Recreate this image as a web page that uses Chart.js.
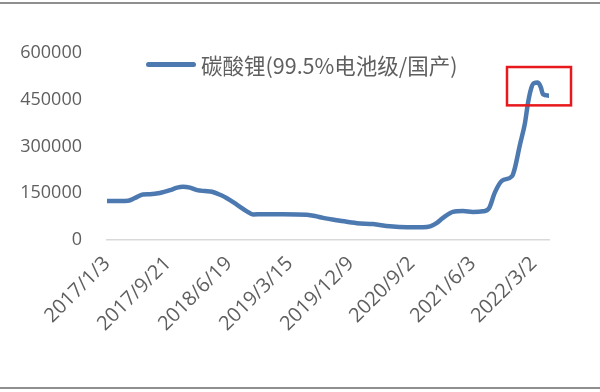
<!DOCTYPE html>
<html>
<head>
<meta charset="utf-8">
<script src="https://cdn.jsdelivr.net/npm/chart.js@4/dist/chart.umd.min.js"></script>
<style>
    body { margin: 0; background: #fff; }
    #wrap { position: relative; width: 600px; height: 392px; overflow: hidden; }
    #wrap::before, #wrap::after {
        content: ''; position: absolute; left: 0; right: 0; height: 2px; background: #8f8f8f;
    }
    #wrap::before { top: 2px; }
    #wrap::after { top: 387px; }
    #legend {
        position: absolute; left: 146px; top: 51px; height: 26px;
        display: flex; align-items: center;
        font-family: "Noto Sans CJK SC", "Open Sans", sans-serif; font-size: 21.5px; color: #5f5f5f;
    }
    #legend .swatch { width: 50px; height: 5px; border-radius: 3px; margin-right: 5px; }
</style>
</head>
<body>
<div id="wrap">
    <canvas id="chart"></canvas>
    <div id="legend"><span class="swatch"></span><span class="name"></span></div>
</div>
<script>
    // trading-day index from 2017/1/3 and price (yuan/ton)
    const tradeDay = [0, 38, 62, 83, 106, 127, 156, 186, 207, 224, 245, 266, 289, 310, 334, 354, 384, 413, 431,
        460, 520, 590, 614, 638, 688, 738, 785, 835, 886, 933, 954, 974, 992, 1021, 1051, 1080, 1110, 1128,
        1145, 1166, 1196, 1204, 1219, 1234, 1243, 1252, 1260, 1272, 1281, 1287, 1305];
    const price = [125000, 125000, 126000, 135000, 146000, 147000, 151000, 160000, 168000, 171000, 168000,
        160000, 157000, 155000, 145000, 134000, 113000, 92000, 82000,
        83000, 83000, 81000, 77000, 71000, 62000, 54000, 51000, 44000, 41000, 41000, 44000, 55000, 71000,
        90000, 93000, 90000, 92000, 102000,
        152000, 190000, 205000, 230000, 305000, 375000, 440000, 485000, 503000, 505000, 490000, 468000, 463000];

    const tickDay = [0, 180, 360, 540, 720, 900, 1080, 1260];
    const tickLabels = ['2017/1/3', '2017/9/21', '2018/6/19', '2019/3/15', '2019/12/9', '2020/9/2', '2021/6/3', '2022/3/2'];

    const seriesName = '碳酸锂(99.5%电池级/国产)';
    const lineColor = '#4d79b1';

    // highlighted box around the 2022 peak, in data units
    const highlight = { x0: 1181, x1: 1370, y0: 432000, y1: 555000 };

    document.querySelector('#legend .swatch').style.background = lineColor;
    document.querySelector('#legend .name').textContent = seriesName;

    const boxPlugin = {
        id: 'highlightBox',
        afterDatasetsDraw(chart) {
            const { ctx, scales: { x, y } } = chart;
            const left = x.getPixelForValue(highlight.x0);
            const right = x.getPixelForValue(highlight.x1);
            const top = y.getPixelForValue(highlight.y1);
            const bottom = y.getPixelForValue(highlight.y0);
            ctx.save();
            ctx.strokeStyle = '#e8191c';
            ctx.lineWidth = 2.5;
            ctx.strokeRect(left, top, right - left, bottom - top);
            ctx.restore();
        }
    };

    const fontFamily = '"Open Sans", sans-serif';

    new Chart(document.getElementById('chart'), {
        type: 'line',
        data: {
            datasets: [{
                label: seriesName,
                data: tradeDay.map((d, i) => ({ x: d, y: price[i] })),
                borderColor: lineColor,
                borderWidth: 4.5,
                pointRadius: 0,
                cubicInterpolationMode: 'monotone',
                borderCapStyle: 'round',
                borderJoinStyle: 'round'
            }]
        },
        options: {
            responsive: true,
            maintainAspectRatio: false,
            animation: false,
            layout: { padding: { left: 20, right: 51, top: 53, bottom: 0 } },
            plugins: {
                legend: { display: false },
                tooltip: { enabled: false }
            },
            scales: {
                x: {
                    type: 'linear',
                    min: 0,
                    max: 1305,
                    grid: { display: false, drawTicks: false },
                    border: { display: true, color: '#d9d9d9', width: 1.5 },
                    afterBuildTicks: axis => { axis.ticks = tickDay.map(v => ({ value: v })); },
                    afterFit: axis => { axis.height = 152; },
                    ticks: {
                        autoSkip: false,
                        minRotation: 45,
                        maxRotation: 45,
                        padding: 12,
                        color: '#5f5f5f',
                        font: { family: fontFamily, size: 20 },
                        callback: v => tickLabels[tickDay.indexOf(v)]
                    }
                },
                y: {
                    min: 0,
                    max: 600000,
                    grid: { display: false, drawTicks: false },
                    border: { display: false },
                    afterFit: axis => { axis.width = 87; },
                    ticks: {
                        stepSize: 150000,
                        padding: 25,
                        color: '#5f5f5f',
                        font: { family: fontFamily, size: 18 },
                        callback: v => String(v)
                    }
                }
            }
        },
        plugins: [boxPlugin]
    });
</script>
</body>
</html>
